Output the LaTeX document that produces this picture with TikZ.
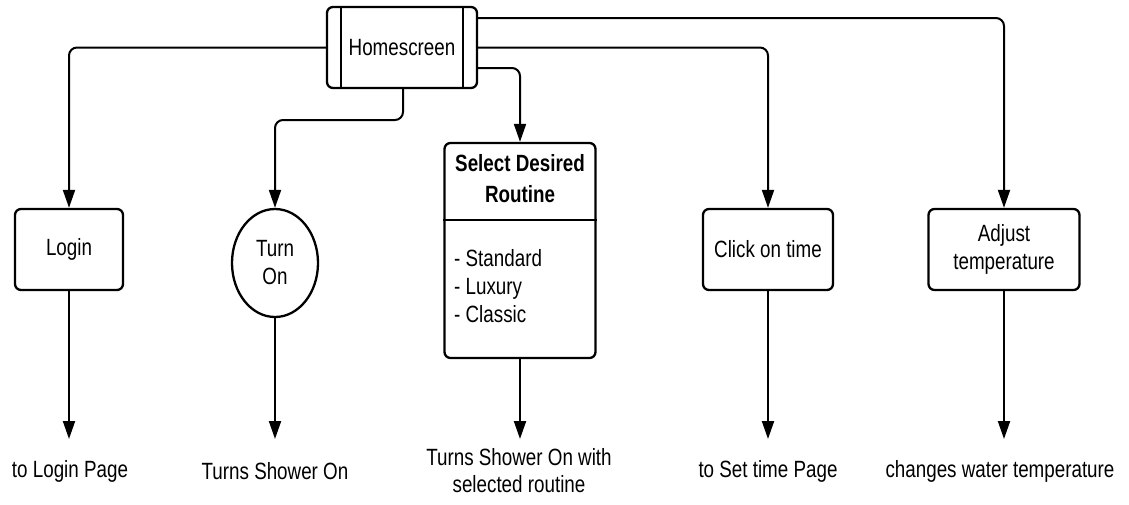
\documentclass[tikz,border=0pt]{standalone}
\usepackage{fontspec}
\setmainfont{Liberation Sans}[FakeStretch=0.8]
\usetikzlibrary{arrows.meta,shapes.geometric}
\tikzset{
  every node/.style={font=\fontsize{23.5}{28}\selectfont, inner sep=0pt},
  box/.style={draw, line width=2.3pt, rounded corners=6pt, align=center},
  oval/.style={draw, ellipse, line width=2.3pt, align=center},
  label/.style={align=center},
  link/.style={line width=2pt, rounded corners=8pt,
    -{Triangle[length=18pt,width=12pt]}}
}
\begin{document}
\begin{tikzpicture}[x=1pt,y=-1pt]
\useasboundingbox (0,0) rectangle (1129,504);

% main screen
\node[box, minimum width=150pt, minimum height=81pt] (home) at (402,47.5) {Homescreen};
\draw[line width=2pt] ([xshift=15pt]home.north west) -- ([xshift=15pt]home.south west);
\draw[line width=2pt] ([xshift=-15pt]home.north east) -- ([xshift=-15pt]home.south east);

% actions
\node[box, minimum width=108pt, minimum height=81pt] (login) at (69,249.5) {Login};
\node[oval, minimum width=86pt, minimum height=108pt] (turn) at (275,263) {Turn\\On};
\node[box, minimum width=151pt, minimum height=215pt] (routine) at (520,250.5) {};
\node[label, font=\fontsize{23.5}{31}\selectfont\bfseries] (rtitle) at (520,179) {Select Desired\\Routine};
\draw[line width=2pt] (routine.west |- 0,220) -- (routine.east |- 0,220);
\node[label, align=left, anchor=west] (rlist) at (454,286) {- Standard\\- Luxury\\- Classic};
\node[box, minimum width=130pt, minimum height=81pt] (click) at (768,249.5) {Click on time};
\node[box, minimum width=151pt, minimum height=81pt] (adjust) at (1004,249.5) {Adjust\\temperature};

% links from the main screen
\draw[link] (home.west) -| (login.north);
\draw[link] ([yshift=29.5pt]home.east) -| (adjust.north);
\draw[link] (home.east) -| (click.north);
\draw[link] ([yshift=-20.5pt]home.east) -| (routine.north);
\draw[link] ([xshift=1pt]home.south) |- (340,120) -| (turn.north);

% results
\coordinate (e1) at (69,439);
\coordinate (e2) at (275,439);
\coordinate (e3) at (520,439);
\coordinate (e4) at (768,439);
\coordinate (e5) at (1004,439);
\draw[link] (login.south) -- (e1);
\draw[link] (turn.south) -- (e2);
\draw[link] (routine.south) -- (e3);
\draw[link] (click.south) -- (e4);
\draw[link] (adjust.south) -- (e5);

\node[label] (r1) at (70,471) {to Login Page};
\node[label] (r2) at (275,471) {Turns Shower On};
\node[label, font=\fontsize{23.5}{27}\selectfont] (r3) at (519,471) {Turns Shower On with\\selected routine};
\node[label] (r4) at (768,471) {to Set time Page};
\node[label] (r5) at (1000,471) {changes water temperature};
\end{tikzpicture}
\end{document}
